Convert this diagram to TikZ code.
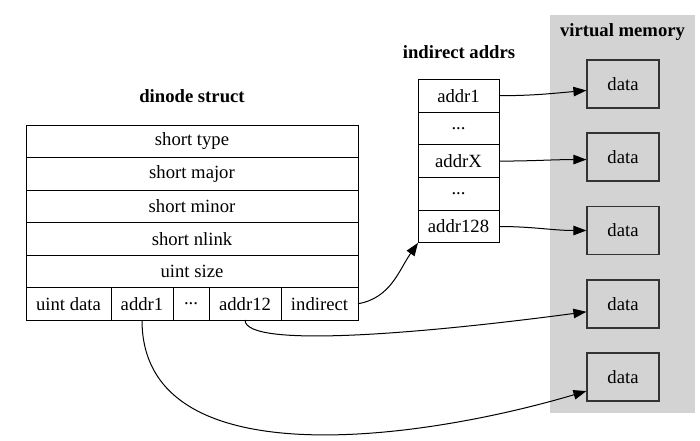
\documentclass[tikz,border=0pt]{standalone}
\usepackage{fontspec}
\setmainfont{Liberation Serif}
\usetikzlibrary{arrows.meta}

\definecolor{vmemgray}{HTML}{D3D3D3}
\tikzset{
	cell/.style={draw=black,line width=1pt,minimum height=32.5pt,inner sep=0pt,outer sep=0pt},
	row/.style={cell,minimum width=332pt},
	icell/.style={cell,minimum width=81pt,minimum height=32.7pt},
	databox/.style={draw=black!80,fill=vmemgray,line width=1.2pt,minimum width=72pt,minimum height=48pt,inner sep=0pt},
	ptr/.style={draw=black,line width=1pt,-{Triangle[length=13pt,width=9.5pt]}},
	title/.style={font=\fontsize{18.67}{22}\selectfont\bfseries}
}

\begin{document}
\begin{tikzpicture}[x=1pt,y=1pt,font=\fontsize{18.67}{22}\selectfont]
		\useasboundingbox (0,0) rectangle (700,440);
		% virtual memory cluster
		\fill[vmemgray] (550,27) rectangle (695,425);
		\node[title] (vmtitle) at (622.5,408) {virtual memory};
		\foreach \y [count=\i] in {356,283,209.5,136,63}
			\node[databox] (d\i) at (623,\y) {data};
		% dinode struct
		\node[title] (dtitle) at (192,344) {dinode struct};
		\node[row] (type) at (192,298.75) {short type};
		\node[row,anchor=north] (major) at (type.south) {short major};
		\node[row,anchor=north] (minor) at (major.south) {short minor};
		\node[row,anchor=north] (nlink) at (minor.south) {short nlink};
		\node[row,anchor=north] (size) at (nlink.south) {uint size};
		\node[cell,minimum width=85pt,anchor=north west] (udata) at (size.south west) {uint data};
		\node[cell,minimum width=62pt,anchor=west] (a1) at (udata.east) {addr1};
		\node[cell,minimum width=36pt,anchor=west] (adots) at (a1.east) {.{}.{}.};
		\node[cell,minimum width=72pt,anchor=west] (a12) at (adots.east) {addr12};
		\node[cell,minimum width=77pt,anchor=west] (ind) at (a12.east) {indirect};
		% indirect addrs
		\node[title] (ititle) at (459,388) {indirect addrs};
		\node[icell] (i1) at (458.5,344.3) {addr1};
		\node[icell,anchor=north] (i2) at (i1.south) {.{}.{}.};
		\node[icell,anchor=north] (iX) at (i2.south) {addrX};
		\node[icell,anchor=north] (i4) at (iX.south) {.{}.{}.};
		\node[icell,anchor=north] (i128) at (i4.south) {addr128};
		% pointers
		\draw[ptr] (i1.east) to[out=0,in=185] (d1.190);
		\draw[ptr] (iX.east) to[out=0,in=180] (d2.184);
		\draw[ptr] (i128.east) to[out=0,in=180] (d3.west);
		\draw[ptr] (ind.east) to[out=10,in=235] (i128.south west);
		\draw[ptr] (a12.south) .. controls +(0,-30) and +(-150,-20) .. (d4.192);
		\draw[ptr] (a1.south) .. controls +(0,-160) and +(-165,-49) .. (d5.201);
	\end{tikzpicture}
\end{document}
